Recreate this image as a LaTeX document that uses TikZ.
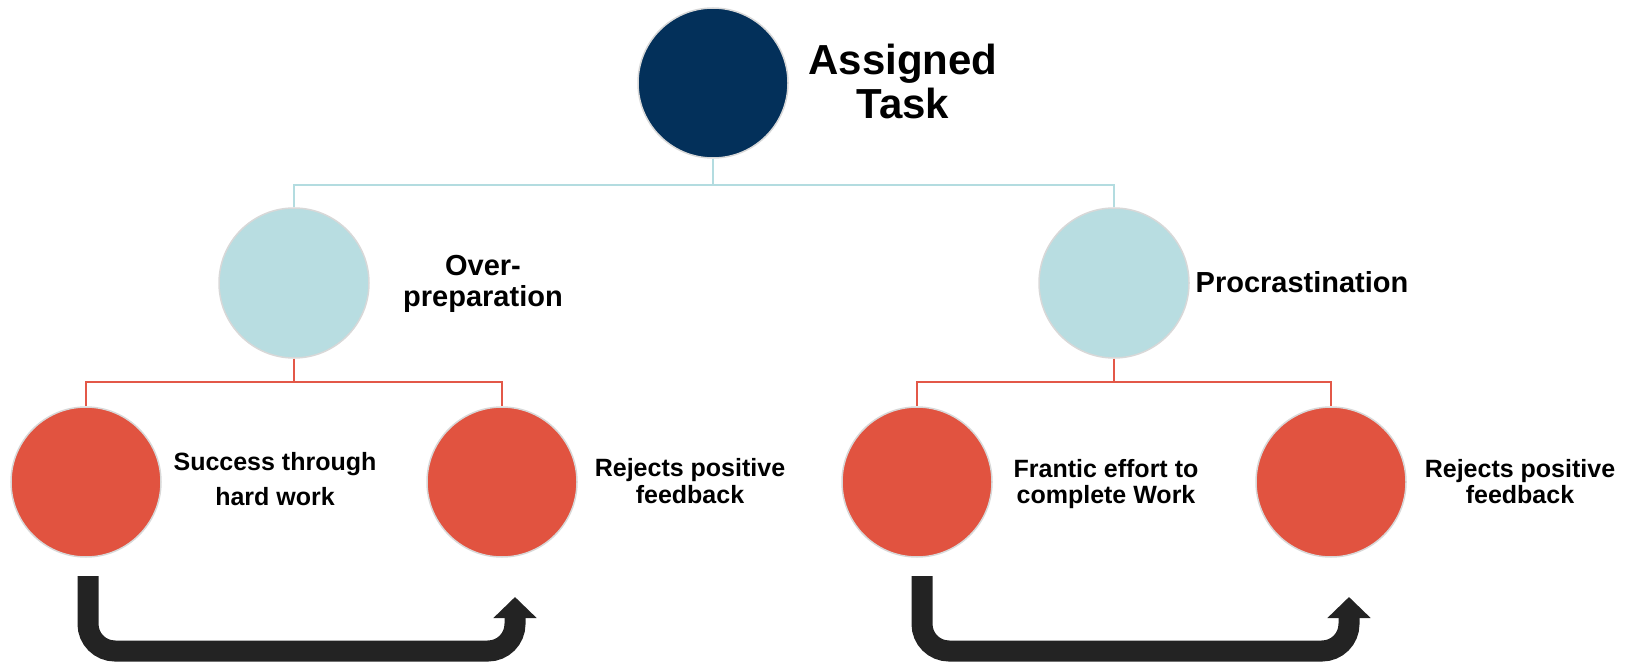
\documentclass[tikz,border=0pt]{standalone}
\usepackage{fontspec}
\setmainfont{Liberation Sans}
\usetikzlibrary{arrows.meta}
\definecolor{navy}{HTML}{03305A}
\definecolor{teal}{HTML}{B8DDE1}
\definecolor{tealline}{HTML}{B3DCE0}
\definecolor{redfill}{HTML}{E15340}
\definecolor{redline}{HTML}{E35848}
\definecolor{rimgray}{HTML}{D8D8D8}
\definecolor{arrowblack}{HTML}{232323}
\begin{document}
\begin{tikzpicture}[x=1pt,y=-1pt,
  disc/.style={circle, minimum size=150pt, inner sep=0pt, draw=rimgray, line width=1.5pt},
  topdisc/.style={disc, fill=navy},
  middisc/.style={disc, fill=teal},
  lowdisc/.style={disc, fill=redfill},
  tline/.style={draw=tealline, line width=2pt},
  rline/.style={draw=redline, line width=2.5pt},
  bigarrow/.style={draw=arrowblack, line width=21pt, rounded corners=27pt,
    -{Triangle[length=21pt,width=42pt]}},
  lab/.style={inner sep=0pt, anchor=base, font=\bfseries}]
\useasboundingbox (0,0) rectangle (1636,663);

% circles
\node[topdisc] (top) at (713,83) {};
\node[middisc] (midL) at (294,283) {};
\node[middisc] (midR) at (1114,283) {};
\node[lowdisc] (b1) at (86,482) {};
\node[lowdisc] (b2) at (502,482) {};
\node[lowdisc] (b3) at (917,482) {};
\node[lowdisc] (b4) at (1331,482) {};

% connectors
\draw[tline] (top.south) -- ++(0,26) coordinate (tj) -| (midL.north);
\draw[tline] (tj) -| (midR.north);
\draw[rline] (midL.south) -- ++(0,23) coordinate (lj) -| (b1.north);
\draw[rline] (lj) -| (b2.north);
\draw[rline] (midR.south) -- ++(0,23) coordinate (rj) -| (b3.north);
\draw[rline] (rj) -| (b4.north);

% labels
\node[lab] (tTop) at (903,75) {\fontsize{42}{43}\selectfont\begin{tabular}[t]{@{}c@{}}Assigned\\Task\end{tabular}};
\node[lab] (tMidL) at (483,275) {\fontsize{29}{32}\selectfont\begin{tabular}[t]{@{}c@{}}Over-\\preparation\end{tabular}};
\node[lab] (tMidR) at (1302,292) {\fontsize{29}{32}\selectfont Procrastination};
\node[lab] (tB1) at (275,470) {\fontsize{25}{35}\selectfont\begin{tabular}[t]{@{}c@{}}Success through\\hard work\end{tabular}};
\node[lab] (tB2) at (690,476) {\fontsize{25}{27}\selectfont\begin{tabular}[t]{@{}c@{}}Rejects positive\\feedback\end{tabular}};
\node[lab] (tB3) at (1106,477) {\fontsize{25}{26}\selectfont\begin{tabular}[t]{@{}c@{}}Frantic effort to\\complete Work\end{tabular}};
\node[lab] (tB4) at (1520,477) {\fontsize{25}{26}\selectfont\begin{tabular}[t]{@{}c@{}}Rejects positive\\feedback\end{tabular}};

% loop arrows
\coordinate (a1s) at (88,576);
\coordinate (a1e) at (515,597);
\coordinate (a2s) at (922,576);
\coordinate (a2e) at (1349,597);
\draw[bigarrow] (a1s) -- (a1s |- 0,651) -- (a1e |- 0,651) -- (a1e);
\draw[bigarrow] (a2s) -- (a2s |- 0,651) -- (a2e |- 0,651) -- (a2e);
\end{tikzpicture}
\end{document}
